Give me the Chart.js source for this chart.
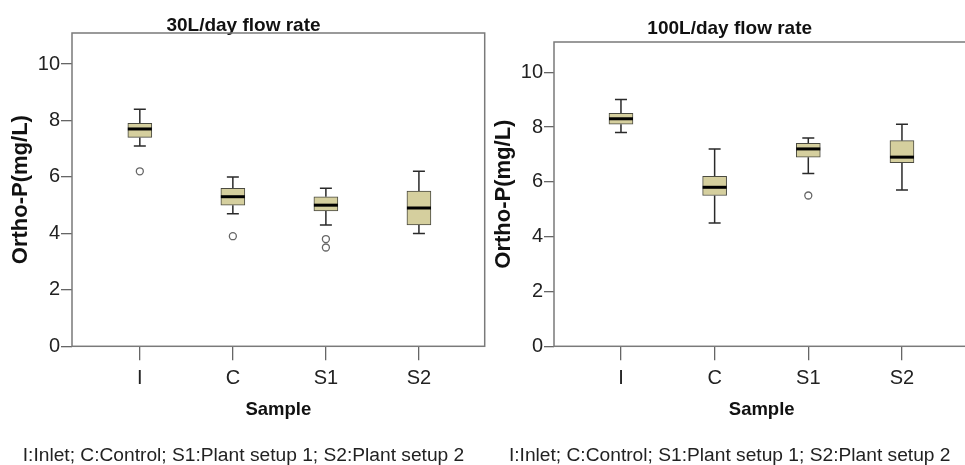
<!DOCTYPE html>
<html><head><meta charset="utf-8">
<script src="https://cdn.jsdelivr.net/npm/chart.js@4/dist/chart.umd.min.js"></script>
<style>
html,body{margin:0;padding:0;background:#fff;overflow:hidden;width:965px;height:465px;position:relative}
#w1{position:absolute;left:0;top:0;width:490px;height:465px}
#w2{position:absolute;left:490px;top:0;width:485px;height:465px}
</style></head><body>
<div id="w1"><canvas id="c1"></canvas></div>
<div id="w2"><canvas id="c2"></canvas></div>
<script>
const categories = ['I', 'C', 'S1', 'S2'];
const footnote = 'I:Inlet; C:Control; S1:Plant setup 1; S2:Plant setup 2';
const yTicks = [0, 2, 4, 6, 8, 10];
const yMax = 11.1;

// 30 L/day flow rate
const low30  = [7.1, 4.7, 4.3, 4.0];
const q1_30  = [7.4, 5.0, 4.8, 4.3];
const med30  = [7.7, 5.3, 5.0, 4.9];
const q3_30  = [7.9, 5.6, 5.3, 5.5];
const high30 = [8.4, 6.0, 5.6, 6.2];
const out30  = [[6.2], [3.9], [3.8, 3.5], []];

// 100 L/day flow rate
const low100  = [7.8, 4.5, 6.3, 5.7];
const q1_100  = [8.1, 5.5, 6.9, 6.7];
const med100  = [8.3, 5.8, 7.2, 6.9];
const q3_100  = [8.5, 6.2, 7.4, 7.5];
const high100 = [9.0, 7.2, 7.6, 8.1];
const out100  = [[], [], [5.5], []];

const FONT = "'Liberation Sans', Arial, sans-serif";

const boxPlugin = {
  id: 'boxwhisk',
  beforeDatasetsDraw(chart, args, o) {
    const ctx = chart.ctx, xs = chart.scales.x, ys = chart.scales.y;
    ctx.save();
    ctx.strokeStyle = '#2a2a2a';
    ctx.lineWidth = 1.5;
    o.low.forEach((lo, i) => {
      const x = xs.getPixelForValue(i);
      const cap = 6;
      const yl = ys.getPixelForValue(lo), yq1 = ys.getPixelForValue(o.q1[i]);
      const yq3 = ys.getPixelForValue(o.q3[i]), yh = ys.getPixelForValue(o.high[i]);
      ctx.beginPath();
      ctx.moveTo(x, yl); ctx.lineTo(x, yq1);
      ctx.moveTo(x, yq3); ctx.lineTo(x, yh);
      ctx.moveTo(x - cap, yl); ctx.lineTo(x + cap, yl);
      ctx.moveTo(x - cap, yh); ctx.lineTo(x + cap, yh);
      ctx.stroke();
    });
    ctx.restore();
  },
  afterDatasetsDraw(chart, args, o) {
    const ctx = chart.ctx, xs = chart.scales.x, ys = chart.scales.y;
    ctx.save();
    ctx.strokeStyle = '#000';
    ctx.lineWidth = 3;
    o.med.forEach((m, i) => {
      const x = xs.getPixelForValue(i), y = ys.getPixelForValue(m);
      ctx.beginPath();
      ctx.moveTo(x - 12, y); ctx.lineTo(x + 12, y);
      ctx.stroke();
    });
    ctx.restore();
  },
  afterDraw(chart) {
    const ctx = chart.ctx, a = chart.chartArea;
    ctx.save();
    ctx.strokeStyle = '#7a7a7a';
    ctx.lineWidth = 1.5;
    ctx.strokeRect(a.left, a.top, a.right - a.left, a.bottom - a.top);
    ctx.restore();
  }
};

function makeChart(id, title, low, q1, med, q3, high, out, cfg) {
  const boxes = categories.map((c, i) => ({x: i, y: [q1[i], q3[i]]}));
  const outliers = [];
  out.forEach((arr, i) => arr.forEach(v => outliers.push({x: i, y: v})));
  return new Chart(document.getElementById(id), {
    type: 'bar',
    data: {
      datasets: [
        {
          type: 'bar', data: boxes,
          backgroundColor: '#d5cf9e', borderColor: '#4a4a40', borderWidth: 1,
          borderSkipped: false, barThickness: 24
        },
        {
          type: 'scatter', data: outliers,
          pointRadius: 3.5, pointBackgroundColor: '#fff',
          pointBorderColor: '#666', pointBorderWidth: 1.3
        }
      ]
    },
    plugins: [boxPlugin],
    options: {
      responsive: true, maintainAspectRatio: false, animation: false,
      layout: {padding: {left: 0, right: cfg.padRight, top: 0, bottom: 0}},
      plugins: {
        legend: {display: false},
        tooltip: {enabled: false},
        boxwhisk: {low, q1, med, q3, high},
        title: {
          display: true, text: title, color: '#111',
          font: {family: FONT, size: 19, weight: 'bold', lineHeight: 1},
          padding: {top: cfg.titleTop, bottom: cfg.titleBottom}
        },
        subtitle: {
          display: true, text: footnote, position: 'bottom', color: '#222',
          font: {family: FONT, size: 19.2, lineHeight: 1},
          padding: {top: 0, bottom: 0}
        }
      },
      scales: {
        x: {
          type: 'linear', min: cfg.xmin, max: cfg.xmax, offset: false,
          afterBuildTicks: s => { s.ticks = categories.map((c, i) => ({value: i})); },
          afterFit: s => { s.height = cfg.xHeight; },
          ticks: {
            callback: v => categories[v], color: '#222', padding: 6,
            font: {family: FONT, size: 20}, maxRotation: 0, autoSkip: false
          },
          grid: {drawOnChartArea: false, offset: false, tickLength: 14, color: '#666', lineWidth: 1.3},
          border: {display: false},
          title: {
            display: true, text: 'Sample', color: '#111',
            font: {family: FONT, size: 18.5, weight: 'bold'},
            padding: {top: 0, bottom: 25}
          }
        },
        y: {
          min: 0, max: yMax,
          afterBuildTicks: s => { s.ticks = yTicks.map(v => ({value: v})); },
          afterFit: s => { s.width = cfg.yWidth; },
          ticks: {color: '#222', padding: 1, font: {family: FONT, size: 20}},
          grid: {drawOnChartArea: false, tickLength: cfg.yTick, color: '#666', lineWidth: 1.3},
          border: {display: false},
          title: {
            display: true, text: 'Ortho-P(mg/L)', color: '#111',
            font: {family: FONT, size: 22, weight: 'bold'},
            padding: {top: cfg.yTitlePad, bottom: 0}
          }
        }
      }
    }
  });
}

makeChart('c1', '30L/day flow rate', low30, q1_30, med30, q3_30, high30, out30,
  {padRight: 3, titleTop: 16, titleBottom: -2, xmin: -0.729, xmax: 3.707, xHeight: 99.5, yWidth: 72, yTick: 11, yTitlePad: 8});
makeChart('c2', '100L/day flow rate', low100, q1_100, med100, q3_100, high100, out100,
  {padRight: 5.6, titleTop: 19, titleBottom: 4, xmin: -0.715, xmax: 3.72, xHeight: 99.5, yWidth: 64, yTick: 10, yTitlePad: 1});
</script>
</body></html>
